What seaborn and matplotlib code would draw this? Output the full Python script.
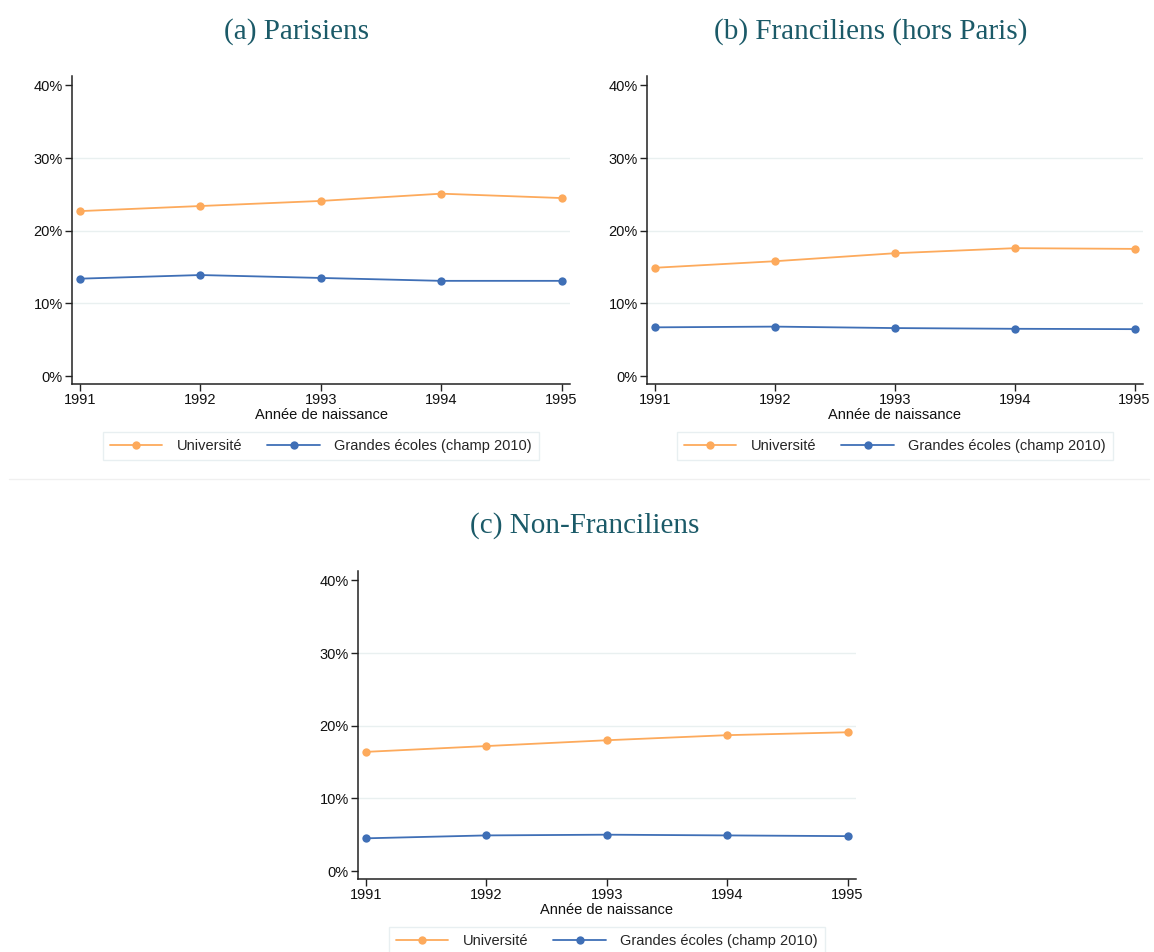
import matplotlib
matplotlib.use("Agg")
import matplotlib.pyplot as plt
import seaborn as sns
import pandas as pd
from matplotlib.ticker import FuncFormatter

# data (share in %)
years = [1991, 1992, 1993, 1994, 1995]
univ_paris = [22.7, 23.4, 24.1, 25.1, 24.5]
ge_paris = [13.4, 13.9, 13.5, 13.1, 13.1]
univ_idf = [14.9, 15.8, 16.9, 17.6, 17.5]
ge_idf = [6.7, 6.8, 6.6, 6.5, 6.45]
univ_prov = [16.4, 17.2, 18.0, 18.7, 19.1]
ge_prov = [4.5, 4.9, 5.0, 4.9, 4.8]

series_names = ["Université", "Grandes écoles (champ 2010)"]
titles = ["(a) Parisiens", "(b) Franciliens (hors Paris)", "(c) Non-Franciliens"]
yticks = [0, 10, 20, 30, 40]

palette = {series_names[0]: "#fdaa5c", series_names[1]: "#3f6fb6"}

sns.set_theme(style="white")
plt.rcParams["font.family"] = ["Liberation Sans", "DejaVu Sans"]

W, H = 1154, 952
fig = plt.figure(figsize=(W / 100, H / 100), dpi=100)

def make_df(u, g):
    return pd.DataFrame({
        "annee": years * 2,
        "part": u + g,
        "serie": [series_names[0]] * len(years) + [series_names[1]] * len(years),
    })

# (left, right, top, bottom) in pixels, title centre x, title y
panels = [
    (make_df(univ_paris, ge_paris), (72, 570, 76, 384), 297, 32, titles[0]),
    (make_df(univ_idf, ge_idf), (647, 1143, 76, 384), 871, 32, titles[1]),
    (make_df(univ_prov, ge_prov), (358, 856, 571, 879), 585, 526, titles[2]),
]

for df, (l, r, t, b), tx, ty, title in panels:
    ax = fig.add_axes([l / W, 1 - b / H, (r - l) / W, (b - t) / H])
    sns.lineplot(data=df, x="annee", y="part", hue="serie", palette=palette,
                 marker="o", markersize=6, markeredgewidth=0, linewidth=1.3,
                 ax=ax)
    ax.set_xlim(1990.935, 1995.07)
    ax.set_ylim(-1.1, 41.3)
    ax.set_yticks(yticks)
    ax.set_xticks(years)
    ax.yaxis.set_major_formatter(FuncFormatter(lambda v, p: f"{v:.0f}%"))
    for gy in [10, 20, 30]:
        ax.axhline(gy, color="#e9f0f0", linewidth=1, zorder=0)
    for s in ["top", "right"]:
        ax.spines[s].set_visible(False)
    for s in ["left", "bottom"]:
        ax.spines[s].set_color("#222222")
        ax.spines[s].set_linewidth(1.1)
    ax.tick_params(axis="both", direction="out", length=5, width=1,
                   color="#222222", labelsize=10.5, labelcolor="#111111", pad=1.5,
                   left=True, bottom=True)
    ax.set_xlabel("Année de naissance", fontsize=10.5, color="#111111", labelpad=1)
    ax.set_ylabel("")
    handles, labels = ax.get_legend_handles_labels()
    ax.legend(handles, labels, ncol=2, loc="center",
              bbox_to_anchor=((l + r) / 2 / W, 1 - (b + 62) / H),
              bbox_transform=fig.transFigure, frameon=True, fancybox=False,
              edgecolor="#e3ecee", fontsize=10.5, handlelength=3.6,
              columnspacing=1.7, borderpad=0.5, handletextpad=1.0)
    fig.text(tx / W, 1 - ty / H, title, ha="center", va="center",
             fontsize=21, color="#1b5a68", family=["Liberation Serif", "DejaVu Serif"])

# faint separator between rows
fig.add_artist(plt.Line2D([9 / W, 1 - 5 / W], [1 - 479 / H, 1 - 479 / H],
                          color="#f0f0f0", linewidth=1, transform=fig.transFigure))

fig.savefig("out.png", dpi=100, facecolor="white")
